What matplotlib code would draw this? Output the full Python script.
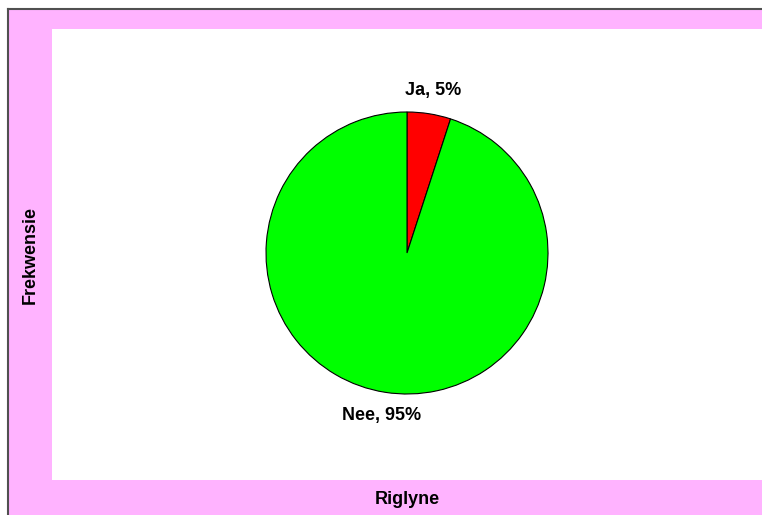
import numpy as np
import matplotlib
matplotlib.use("Agg")
import matplotlib.pyplot as plt

# answer categories and their share of responses (%)
labels = ["Ja", "Nee"]
values = [5, 95]
colors = ["#ff0000", "#00ff00"]

W, H = 762, 515
fig = plt.figure(figsize=(W / 100, H / 100), dpi=100, facecolor="white")
plt.rcParams["font.family"] = ["Liberation Sans", "DejaVu Sans"]

def box(x0, y0, x1, y1):
    # pixel box (top-left origin) -> figure fraction rect
    return [x0 / W, 1 - y1 / H, (x1 - x0) / W, (y1 - y0) / H]

# pink chart area with dark border on top and left
bg = fig.add_axes(box(8, 9, W, H))
bg.set_facecolor("#ffb3ff")
bg.set_xticks([])
bg.set_yticks([])
for side in ("right", "bottom"):
    bg.spines[side].set_visible(False)
for side in ("top", "left"):
    bg.spines[side].set_color("#505050")
    bg.spines[side].set_linewidth(1.5)

# white plot area
plot = fig.add_axes(box(52, 29, W, 480))
plot.set_facecolor("white")
plot.set_xticks([])
plot.set_yticks([])
for s in plot.spines.values():
    s.set_visible(False)

fig.text(407 / W, 1 - 500 / H, "Riglyne", ha="center", va="center",
         fontsize=13, fontweight="bold")
fig.text(30 / W, 1 - 255 / H, "Frekwensie", ha="center", va="center",
         rotation=90, fontsize=13, fontweight="bold")

# the pie itself
cx, cy, r = 407, 253, 141
ax = fig.add_axes(box(cx - r, cy - r, cx + r, cy + r))
wedges, _ = ax.pie(values, colors=colors, startangle=90, counterclock=False,
                   wedgeprops=dict(edgecolor="black", linewidth=0.8))
ax.set_xlim(-1, 1)
ax.set_ylim(-1, 1)
ax.set_aspect("auto")

for w, lab, v in zip(wedges, labels, values):
    mid = np.deg2rad((w.theta1 + w.theta2) / 2)
    ax.text(1.17 * np.cos(mid), 1.17 * np.sin(mid), "%s, %d%%" % (lab, v),
            ha="center", va="center", fontsize=13, fontweight="bold",
            clip_on=False)

fig.savefig("out.png", dpi=100, facecolor="white")
